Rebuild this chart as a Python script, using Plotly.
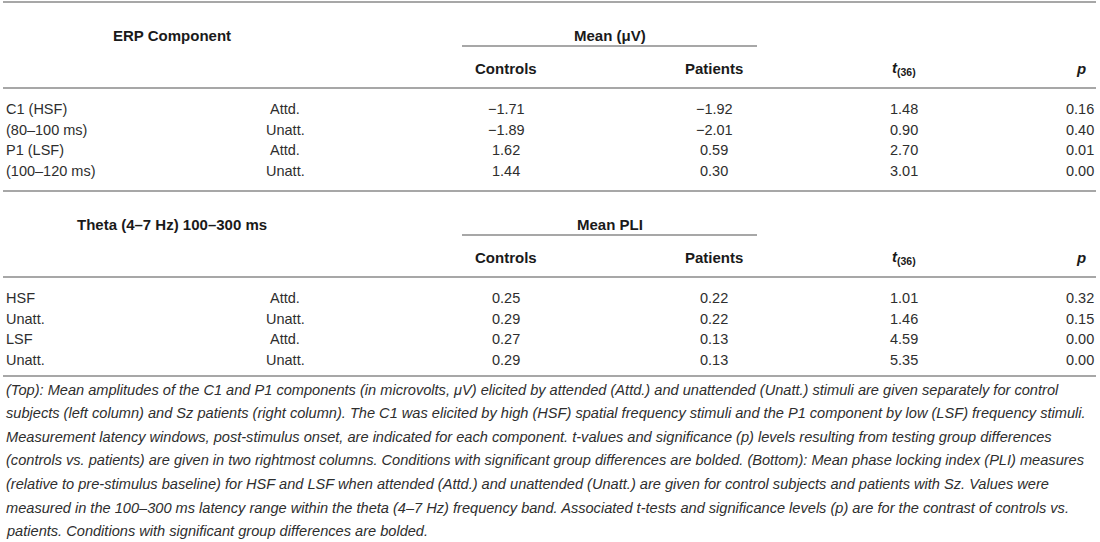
import plotly.graph_objects as go

# ---------------- data ----------------
erp_labels = ["C1 (HSF)", "(80–100 ms)", "P1 (LSF)", "(100–120 ms)"]
erp_cond = ["Attd.", "Unatt.", "Attd.", "Unatt."]
erp_controls = ["−1.71", "−1.89", "1.62", "1.44"]
erp_patients = ["−1.92", "−2.01", "0.59", "0.30"]
erp_t = ["1.48", "0.90", "2.70", "3.01"]
erp_p = ["0.16", "0.40", "0.01", "0.00"]

pli_labels = ["HSF", "Unatt.", "LSF", "Unatt."]
pli_cond = ["Attd.", "Unatt.", "Attd.", "Unatt."]
pli_controls = ["0.25", "0.29", "0.27", "0.29"]
pli_patients = ["0.22", "0.22", "0.13", "0.13"]
pli_t = ["1.01", "1.46", "4.59", "5.35"]
pli_p = ["0.32", "0.15", "0.00", "0.00"]

caption_lines = [
    "(Top): Mean amplitudes of the C1 and P1 components (in microvolts, μV) elicited by attended (Attd.) and unattended (Unatt.) stimuli are given separately for control",
    "subjects (left column) and Sz patients (right column). The C1 was elicited by high (HSF) spatial frequency stimuli and the P1 component by low (LSF) frequency stimuli.",
    "Measurement latency windows, post-stimulus onset, are indicated for each component. t-values and significance (p) levels resulting from testing group differences",
    "(controls vs. patients) are given in two rightmost columns. Conditions with significant group differences are bolded. (Bottom): Mean phase locking index (PLI) measures",
    "(relative to pre-stimulus baseline) for HSF and LSF when attended (Attd.) and unattended (Unatt.) are given for control subjects and patients with Sz. Values were",
    "measured in the 100–300 ms latency range within the theta (4–7 Hz) frequency band. Associated t-tests and significance levels (p) are for the contrast of controls vs.",
    "patients. Conditions with significant group differences are bolded.",
]

# ---------------- layout constants ----------------
W, H = 1100, 542
FONT = "Liberation Sans, Arial, Helvetica, sans-serif"
TXT = "#2e2e2e"
HEAD = "#1a1a1a"
LINE = "#8a8a8a"
FS = 14.5
FS_HEAD = 15
FS_CAP = 14.6

X_LABEL = 4
X_COND = 285
X_CTRL = 506
X_PAT = 714
X_T = 904
X_P = 1096
ROW_STEP = 20.6

fig = go.Figure()
ann = []
shapes = []


def text(x, y, s, anchor="center", bold=False, italic=False, size=FS, color=TXT):
    if bold:
        s = "<b>" + s + "</b>"
    if italic:
        s = "<i>" + s + "</i>"
    ann.append(dict(x=x, y=y, xref="x", yref="y", text=s, showarrow=False,
                    xanchor=anchor, yanchor="middle",
                    font=dict(family=FONT, size=size, color=color)))


def hline(x0, x1, y, w=1.6):
    shapes.append(dict(type="line", xref="x", yref="y", x0=x0, x1=x1, y0=y, y1=y,
                       line=dict(color=LINE, width=w)))


def block(top, title, group_title, labels, cond, ctrl, pat, tv, pv):
    hline(3, 1096, top)
    text(172, top + 33, title, bold=True, size=FS_HEAD, color=HEAD)
    text((462 + 757) / 2, top + 33, group_title, bold=True, size=FS_HEAD, color=HEAD)
    hline(462, 757, top + 44, w=1.4)
    text(X_CTRL, top + 66, "Controls", bold=True, size=FS_HEAD, color=HEAD)
    text(X_PAT, top + 66, "Patients", bold=True, size=FS_HEAD, color=HEAD)
    text(X_T, top + 66, "<b><i>t</i></b><sub><b>(36)</b></sub>", size=FS_HEAD, color=HEAD)
    text(1088, top + 66, "<b><i>p</i></b>", anchor="right", size=FS_HEAD, color=HEAD)
    hline(3, 1096, top + 86)
    y0 = top + 107
    for i in range(len(labels)):
        y = y0 + i * ROW_STEP
        text(X_LABEL, y, labels[i], anchor="left")
        text(X_COND, y, cond[i])
        text(X_CTRL, y, ctrl[i])
        text(X_PAT, y, pat[i])
        text(X_T, y, tv[i])
        text(X_P, y, pv[i], anchor="right")


block(2, "ERP Component", "Mean (μV)", erp_labels, erp_cond, erp_controls,
      erp_patients, erp_t, erp_p)
block(191, "Theta (4–7 Hz) 100–300 ms", "Mean PLI", pli_labels, pli_cond,
      pli_controls, pli_patients, pli_t, pli_p)
hline(3, 1096, 376)

for i, line in enumerate(caption_lines):
    text(X_LABEL, 389.5 + i * 23.6, line, anchor="left", italic=True, size=FS_CAP)

fig.update_layout(
    width=W, height=H,
    margin=dict(l=0, r=0, t=0, b=0),
    paper_bgcolor="white", plot_bgcolor="white",
    xaxis=dict(range=[0, W], visible=False, fixedrange=True),
    yaxis=dict(range=[H, 0], visible=False, fixedrange=True),
    annotations=ann, shapes=shapes, showlegend=False,
)

fig.write_html(
    "out.html",
    config={"displayModeBar": False},
    post_script="document.body.style.margin='0';document.body.style.overflow='hidden';",
)
